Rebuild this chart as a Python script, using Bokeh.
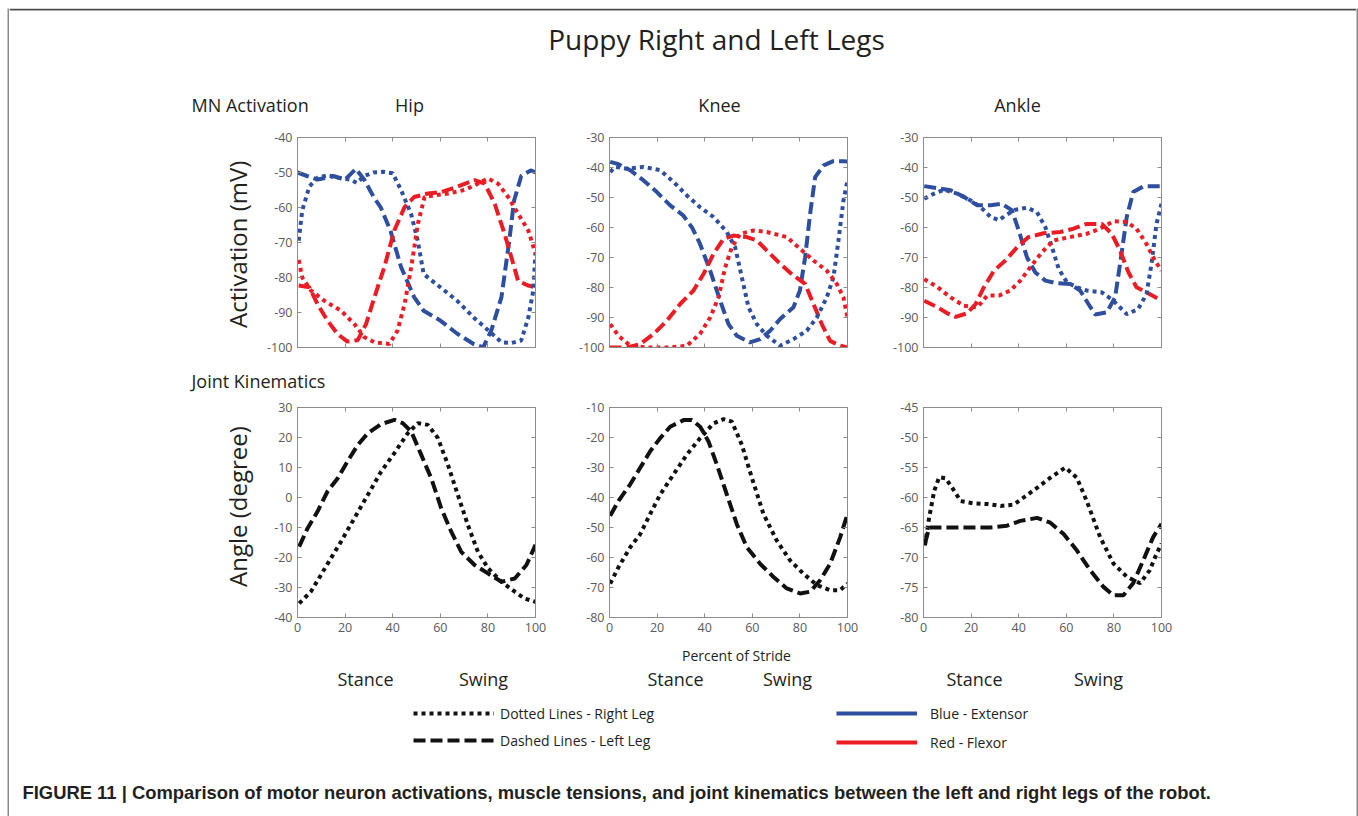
from bokeh.plotting import figure
from bokeh.models import Range1d, FixedTicker, LinearAxis, Label, Legend, LegendItem, Spacer, Span
from bokeh.layouts import column, row
from bokeh.embed import file_html
from bokeh.resources import INLINE

FONT = "Open Sans"
BLUE = "#2e4f9f"
RED = "#ec1c24"
BLACK = "#111111"
FRAME = "#8c8c8c"
TICKC = "#5a5a5a"
TEXTC = "#231f20"
DOT = "4 4"
DASH = "12 5"

# ---------------- data: MN activation (mV) ----------------
hip_ext_R_x = [0.5, 2, 5, 8.4, 12.6, 17, 22, 25, 28, 32, 36, 40, 43.5, 47.7, 50.5, 53, 60, 67, 74, 80, 85.7, 90, 94, 97, 99, 100]
hip_ext_R_y = [-69.5, -60.8, -54, -51.5, -50.8, -51.5, -52, -53, -51, -50, -49.8, -50.2, -55, -61.8, -69.4, -79, -82.8, -86.6, -91.4, -95, -98.5, -98.7, -98, -91.4, -84, -73]
hip_ext_L_x = [0, 4, 8.4, 12, 15, 20, 24.5, 28, 32, 35, 39, 43.5, 49, 53, 60, 67, 74, 78, 81.5, 85.7, 89, 91, 94, 98, 100]
hip_ext_L_y = [-50, -51, -52, -51.5, -51, -52, -49, -52, -57, -60, -66.5, -77, -85.6, -89.5, -92.3, -96, -99, -100, -95, -85.6, -69.4, -58, -51, -49.4, -50]
hip_flx_R_x = [0.5, 2, 5.6, 11.2, 18.3, 23.9, 28, 32.3, 38.6, 42, 45, 47.8, 50.6, 53.4, 57.6, 63.2, 70.2, 74.4, 80, 84.3, 88.5, 92.7, 97, 100]
hip_flx_R_y = [-75, -80, -83.7, -86.6, -89.5, -93.3, -97, -98.5, -99, -95.2, -87.6, -77, -64.6, -57, -56.5, -56, -55, -53.7, -51.7, -53.2, -57, -61.8, -66.6, -73.2]
hip_flx_L_x = [0.5, 5, 8.4, 12.6, 16.9, 21, 25.3, 28.8, 32.3, 36.5, 40.7, 45, 49, 54.8, 60.4, 67.4, 74.4, 78.7, 82.9, 87, 90.6, 92.7, 97, 100]
hip_flx_L_y = [-82.3, -82.8, -87.6, -92.3, -96.2, -98.3, -97.9, -93.3, -85.7, -77, -66.5, -59.9, -57, -56, -55.6, -54, -52.2, -53.2, -59, -67.5, -76, -81, -82.3, -82.8]

knee_ext_R_x = [0.3, 2.4, 7.3, 14.3, 21.3, 26.9, 32.5, 38, 43.7, 49.3, 52.8, 55.6, 58.4, 61.9, 66.1, 71.7, 77.3, 82.9, 87.1, 91.3, 94.1, 96.2, 98.3, 100]
knee_ext_R_y = [-41.5, -39.8, -40.4, -39.8, -40.9, -44.8, -49.3, -53.2, -56.5, -61.5, -66.6, -76.6, -86.6, -92.2, -96.1, -99.4, -97.2, -94.4, -90, -83.3, -76.6, -64.3, -51, -44.3]
knee_ext_L_x = [0.3, 3.8, 8.7, 14.3, 19.9, 25.5, 31, 34.6, 38, 42.3, 46.5, 50, 53.5, 59, 63.3, 67.5, 71.7, 77.3, 80, 82.2, 84.3, 86.4, 90, 94, 98, 100]
knee_ext_L_y = [-38.1, -38.9, -40.9, -44.3, -48.2, -52.6, -56, -59.9, -65.4, -74.4, -84.4, -92.2, -96.1, -98.3, -97.2, -94.4, -90.5, -86.6, -81, -69.9, -55.4, -43.2, -39.3, -37.9, -37.9, -38]
knee_flx_R_x = [0.3, 3.8, 8.7, 15.7, 25.5, 32.5, 38, 42.3, 45.8, 48.6, 51.4, 54.9, 60.5, 66.1, 74.5, 80.1, 85.7, 91.3, 95.5, 98.3, 100]
knee_flx_R_y = [-92.2, -96.1, -99.4, -100, -100, -99.4, -95.5, -90, -83.3, -73.3, -66.6, -62.1, -61, -61.5, -63.2, -67.1, -71, -74.4, -78.8, -83.3, -90]
knee_flx_L_x = [0, 7.3, 12.9, 18.5, 24.1, 29.7, 35.3, 39.5, 43.7, 47.9, 52.1, 57.7, 61.9, 66.1, 71.7, 77.3, 82.2, 85.7, 89.2, 92.7, 96.9, 100]
knee_flx_L_y = [-100, -100, -98.9, -95.5, -91.1, -85.5, -81, -75.5, -68.8, -63.8, -62.7, -63.2, -64.3, -67.7, -72.1, -76, -78.8, -85.5, -92.2, -97.8, -99.4, -100]

ank_ext_R_x = [0.3, 4.5, 8.6, 14.2, 19.8, 24, 28.2, 31.7, 34.4, 38.6, 43.5, 47.7, 51.2, 54, 56.8, 60.3, 64.4, 68.6, 74.9, 79.8, 85.4, 90.2, 93.7, 95.8, 97.9, 100]
ank_ext_R_y = [-50.4, -48.7, -47.4, -48.7, -51, -53.2, -56.5, -57.6, -56, -54.1, -53.4, -54.9, -59.9, -66.6, -73.8, -78.3, -79.9, -81, -81.6, -84.4, -88.9, -87.2, -82.2, -72.1, -58.8, -52.1]
ank_ext_L_x = [0.3, 6.6, 11.4, 17, 22.6, 28.2, 33, 37.2, 40, 43.5, 47, 51.2, 56, 61.6, 65.8, 69.3, 72.1, 77, 80.5, 82.6, 85.4, 88.1, 92.3, 100]
ank_ext_L_y = [-46.2, -47, -47.6, -49.8, -52.6, -52.6, -52.1, -54.3, -61, -70, -75, -77.7, -78.6, -78.8, -81, -85.5, -89, -88.3, -83.3, -72.1, -56.5, -48.2, -46.3, -46.2]
ank_flx_R_x = [0.3, 5.9, 11.4, 17, 22.6, 26.8, 31.7, 36.5, 40.7, 44.9, 49.8, 54.7, 61.6, 68.6, 74.2, 79.8, 85.4, 89.5, 93.7, 97.2, 100]
ank_flx_R_y = [-77.2, -79.9, -83.3, -86.1, -86.6, -82.7, -82.7, -81, -77.7, -73.2, -68.2, -64.3, -63.2, -62.1, -60.4, -57.9, -58.2, -60.4, -65.5, -71, -74.4]
ank_flx_L_x = [0.3, 5.9, 10, 13.5, 18.4, 21.9, 25.4, 29.6, 34.4, 39.3, 44.1, 50.5, 57.5, 63, 68.6, 74.9, 79.1, 82.6, 86.1, 89.5, 93.7, 100]
ank_flx_L_y = [-84.4, -86.6, -88.6, -89.8, -88.6, -85.5, -79.9, -74.4, -71, -66.6, -63.2, -61.9, -61.5, -60.4, -58.8, -58.8, -62.1, -67.7, -74.9, -79.9, -81.6, -84.4]

# ---------------- data: joint angles (degree) ----------------
hip_ang_R_x = [0.7, 5.6, 9.8, 14, 18.3, 23.9, 29.5, 35.1, 40.7, 46.3, 50.6, 54.8, 59, 63.2, 67.4, 71.6, 75.8, 80.1, 85.7, 91.3, 95.5, 100]
hip_ang_R_y = [-35.3, -31.4, -25.9, -20.3, -14.7, -6.9, 0.8, 8.6, 14.8, 21.4, 24.8, 24.2, 19.8, 10.9, 0.8, -9.2, -18.1, -23.6, -28.1, -31.4, -33.7, -34.8]
hip_ang_L_x = [0.7, 4.2, 8.4, 12.6, 16.9, 21, 25.3, 29.5, 35, 40.7, 44.2, 47.8, 52, 56.2, 60.4, 64.6, 68.8, 74.4, 80, 85.7, 91.3, 96.2, 100]
hip_ang_L_y = [-16.4, -10.3, -4.7, 2, 6.4, 12, 17.5, 21.4, 24.4, 25.9, 24.8, 22, 14.2, 6.4, -3.6, -11.4, -18.1, -22.5, -25.3, -28.1, -27, -22.5, -15.8]

knee_ang_R_x = [0.3, 3.8, 8.7, 12.9, 17.1, 21.3, 26.9, 32.5, 38.1, 43.7, 47.9, 51.4, 55.6, 59.8, 64.7, 70.3, 75.9, 81.5, 87.1, 92.7, 96.9, 100]
knee_ang_R_y = [-68.7, -63.2, -56.6, -52.2, -45.5, -39, -32.3, -25.7, -20.2, -15.3, -13.9, -14.7, -22.4, -33.4, -45.5, -54.4, -61, -65.4, -69.2, -70.9, -70.9, -68.7]
knee_ang_L_x = [0.3, 3.8, 8.7, 12.9, 17.1, 21.3, 25.5, 31.1, 34.6, 38.1, 41.6, 45.1, 49.3, 53.5, 57.7, 63.3, 68.9, 74.5, 80.1, 84.3, 88.5, 92.7, 96.9, 100]
knee_ang_L_y = [-46.1, -41.1, -35.6, -30.1, -24.6, -20.2, -16.4, -14.2, -14.2, -16.4, -21.3, -29, -39, -48.9, -56.6, -62.1, -66.5, -70.3, -72, -71.4, -67.6, -62.1, -53.3, -45.5]

ank_ang_R_x = [0.6, 2.4, 4.5, 6.6, 9.3, 12.1, 15.6, 21.2, 26.8, 32.4, 37.9, 42.1, 47.7, 53.3, 59.6, 64.4, 68.6, 74.2, 79.8, 85.4, 91, 95.1, 97.9, 100]
ank_ang_R_y = [-68, -63.3, -58.9, -56.6, -56.8, -58.4, -60.6, -61, -61.1, -61.4, -61.2, -60, -58.4, -56.7, -55, -56.7, -60.6, -66.6, -71, -73.2, -74.3, -72.1, -69.4, -67.7]
ank_ang_L_x = [0.6, 2.4, 5.9, 17, 28.2, 35.1, 40.7, 47.7, 53.3, 58.9, 64.4, 70, 75.6, 79.8, 84, 88.1, 92.3, 96.5, 100]
ank_ang_L_y = [-67.7, -65, -65, -65, -65, -64.7, -63.9, -63.4, -64.2, -66.1, -68.8, -72.1, -74.9, -76.3, -76.3, -74.3, -70.5, -66.6, -64.4]

x_ticks = [0, 20, 40, 60, 80, 100]
act_ranges = {"hip": (-100, -40), "knee": (-100, -30), "ankle": (-100, -30)}
ang_ranges = {"hip": (-40, 30), "knee": (-80, -10), "ankle": (-80, -45)}
ang_steps = {"hip": 10, "knee": 10, "ankle": 5}

joint_titles = ["Hip", "Knee", "Ankle"]
phase_labels = ["Stance", "Swing"]
main_title = "Puppy Right and Left Legs"
caption = ("FIGURE 11 | Comparison of motor neuron activations, muscle tensions, and joint kinematics "
           "between the left and right legs of the robot.")


def style_axis(ax, ticks, labels):
    ax.ticker = FixedTicker(ticks=ticks)
    ax.axis_line_color = FRAME
    ax.major_tick_line_color = FRAME
    ax.major_tick_in = 4
    ax.major_tick_out = 0
    ax.minor_tick_line_color = None
    ax.major_label_text_font = FONT
    ax.major_label_standoff = 5
    ax.major_label_overrides = {t: str(t) for t in ticks}
    if labels:
        ax.major_label_text_font_size = "12.5px"
        ax.major_label_text_color = TICKC
    else:
        ax.major_label_text_font_size = "1px"
        ax.major_label_text_color = None
        ax.major_label_standoff = 0


def panel(width, height, bl, br, bt, bb, yr, yticks, xlabels):
    p = figure(width=width, height=height, output_backend="svg", toolbar_location=None, title=None,
               x_range=Range1d(0, 100), y_range=Range1d(*yr),
               min_border_left=bl, min_border_right=br, min_border_top=bt, min_border_bottom=bb)
    p.xgrid.visible = False
    p.ygrid.visible = False
    p.outline_line_color = FRAME
    p.background_fill_color = "white"
    p.border_fill_color = "white"
    style_axis(p.xaxis[0], x_ticks, xlabels)
    style_axis(p.yaxis[0], yticks, True)
    top = LinearAxis()
    style_axis(top, x_ticks, False)
    p.add_layout(top, "above")
    right = LinearAxis()
    style_axis(right, yticks, False)
    p.add_layout(right, "right")
    return p


def lbl(p, x, y, text, size, align="left", angle=0, bold=False, color=TEXTC, font=FONT, baseline="alphabetic"):
    # y is the wanted baseline; shift for how the renderer places an alphabetic baseline
    px = float(size.replace("px", ""))
    if baseline == "alphabetic":
        y = y - 0.41 * px
    p.add_layout(Label(x=x, y=y, text=text, text_font=font,
                       text_font_size=size, text_align=align, text_baseline=baseline,
                       angle=angle, angle_units="deg", text_color=color,
                       text_font_style="bold" if bold else "normal"))


def deco(x0, x1, y0, y1):
    # decoration band whose data coordinates are page pixels (y downwards)
    p = figure(width=x1 - x0, height=y1 - y0, output_backend="svg", toolbar_location=None, title=None,
               x_range=Range1d(x0, x1), y_range=Range1d(y1, y0),
               x_axis_type=None, y_axis_type=None, min_border=0)
    p.outline_line_color = None
    p.background_fill_color = "white"
    p.border_fill_color = "white"
    return p


def strip(width, height, color):
    p = figure(width=width, height=height, output_backend="svg", toolbar_location=None, title=None,
               x_axis_type=None, y_axis_type=None, min_border=0,
               x_range=Range1d(0, 1), y_range=Range1d(0, 1))
    p.outline_line_color = None
    p.background_fill_color = color
    p.border_fill_color = color
    return p


# ---------------- top band (also carries the top border line) ----------------
top_band = deco(9, 1356, 8, 120)
top_band.add_layout(Span(location=9, dimension="width", line_color="#4d4d4d", line_width=2))
lbl(top_band, 716, 50, main_title, "28px", align="center")
lbl(top_band, 191, 112, "MN Activation", "18px")
for t, cx in zip(joint_titles, [409, 719, 1017]):
    lbl(top_band, cx, 112, t, "18px", align="center")

# ---------------- row 1: activations ----------------
col_w = [317, 313, 471]
col_bl = [42, 37, 38]
col_br = [37, 38, 195]
act_series = [
    (hip_ext_R_x, hip_ext_R_y, hip_ext_L_x, hip_ext_L_y, hip_flx_R_x, hip_flx_R_y, hip_flx_L_x, hip_flx_L_y),
    (knee_ext_R_x, knee_ext_R_y, knee_ext_L_x, knee_ext_L_y, knee_flx_R_x, knee_flx_R_y, knee_flx_L_x, knee_flx_L_y),
    (ank_ext_R_x, ank_ext_R_y, ank_ext_L_x, ank_ext_L_y, ank_flx_R_x, ank_flx_R_y, ank_flx_L_x, ank_flx_L_y),
]
left1 = deco(9, 255, 120, 362)
lbl(left1, 237, 243, "Activation (mV)", "24px", align="center", angle=90, baseline="middle")
row1 = [left1]
for i, key in enumerate(["hip", "knee", "ankle"]):
    lo, hi = act_ranges[key]
    yt = list(range(lo, hi + 1, 10))
    p = panel(col_w[i], 242, col_bl[i], col_br[i], 17, 15, (lo, hi), yt, False)
    erx, ery, elx, ely, frx, fry, flx, fly = act_series[i]
    p.line(elx, ely, line_color=BLUE, line_width=4, line_dash=DASH)
    p.line(flx, fly, line_color=RED, line_width=4, line_dash=DASH)
    p.line(erx, ery, line_color=BLUE, line_width=4, line_dash=DOT)
    p.line(frx, fry, line_color=RED, line_width=4, line_dash=DOT)
    row1.append(p)

# ---------------- middle band ----------------
mid_band = deco(9, 1356, 362, 396)
lbl(mid_band, 191, 388, "Joint Kinematics", "18px")

# ---------------- row 2: kinematics ----------------
ang_series = [
    (hip_ang_R_x, hip_ang_R_y, hip_ang_L_x, hip_ang_L_y),
    (knee_ang_R_x, knee_ang_R_y, knee_ang_L_x, knee_ang_L_y),
    (ank_ang_R_x, ank_ang_R_y, ank_ang_L_x, ank_ang_L_y),
]
left2 = deco(9, 255, 396, 642)
lbl(left2, 237, 512, "Angle (degree)", "24px", align="center", angle=90, baseline="middle")
row2 = [left2]
for i, key in enumerate(["hip", "knee", "ankle"]):
    lo, hi = ang_ranges[key]
    yt = list(range(lo, hi + 1, ang_steps[key]))
    p = panel(col_w[i], 246, col_bl[i], col_br[i], 11, 25, (lo, hi), yt, True)
    rx, ry, lx, ly = ang_series[i]
    p.line(lx, ly, line_color=BLACK, line_width=4, line_dash=DASH)
    p.line(rx, ry, line_color=BLACK, line_width=4, line_dash=DOT)
    row2.append(p)

# ---------------- lower band ----------------
low_band = deco(9, 1356, 642, 700)
lbl(low_band, 736, 661, "Percent of Stride", "14px", align="center")
for (sx, wx) in [(365, 483), (675, 787), (974, 1098)]:
    lbl(low_band, sx, 686, phase_labels[0], "18px", align="center")
    lbl(low_band, wx, 686, phase_labels[1], "18px", align="center")

# ---------------- bottom band: legend + caption ----------------
bot = deco(9, 1356, 700, 816)
off_x = [0, 1]
off_y = [0, 0]   # outside the band's visible range: these renderers only feed the legend
r_dot = bot.line(off_x, off_y, line_color=BLACK, line_width=4, line_dash=DOT)
r_dash = bot.line(off_x, off_y, line_color=BLACK, line_width=4, line_dash=DASH)
r_blue = bot.line(off_x, off_y, line_color=BLUE, line_width=4)
r_red = bot.line(off_x, off_y, line_color=RED, line_width=4)
common = dict(orientation="vertical", glyph_width=81, glyph_height=20, label_height=20,
              padding=0, margin=0, border_line_color=None, background_fill_alpha=0,
              label_text_font=FONT, label_text_font_size="14px", label_text_color=TEXTC)
leg1 = Legend(items=[LegendItem(label="Dotted Lines - Right Leg", renderers=[r_dot]),
                     LegendItem(label="Dashed Lines - Left Leg", renderers=[r_dash])],
              location=(404, 66), spacing=7, label_standoff=6, **common)
leg2 = Legend(items=[LegendItem(label="Blue - Extensor", renderers=[r_blue]),
                     LegendItem(label="Red - Flexor", renderers=[r_red])],
              location=(827, 64), spacing=9, label_standoff=13, **common)
bot.add_layout(leg1)
bot.add_layout(leg2)
lbl(bot, 22, 800, caption, "18.4px", bold=True, font="Liberation Sans")

main = column(top_band, row(*row1, spacing=0), mid_band, row(*row2, spacing=0), low_band, bot, spacing=0)
body = row(strip(2, 808, "#8a8a8a"), main, strip(2, 808, "#8a8a8a"), spacing=0)
root = column(Spacer(height=8, width=1358), row(Spacer(width=7, height=808), body, spacing=0), spacing=0)

open("out.html", "w").write(file_html(root, INLINE))
